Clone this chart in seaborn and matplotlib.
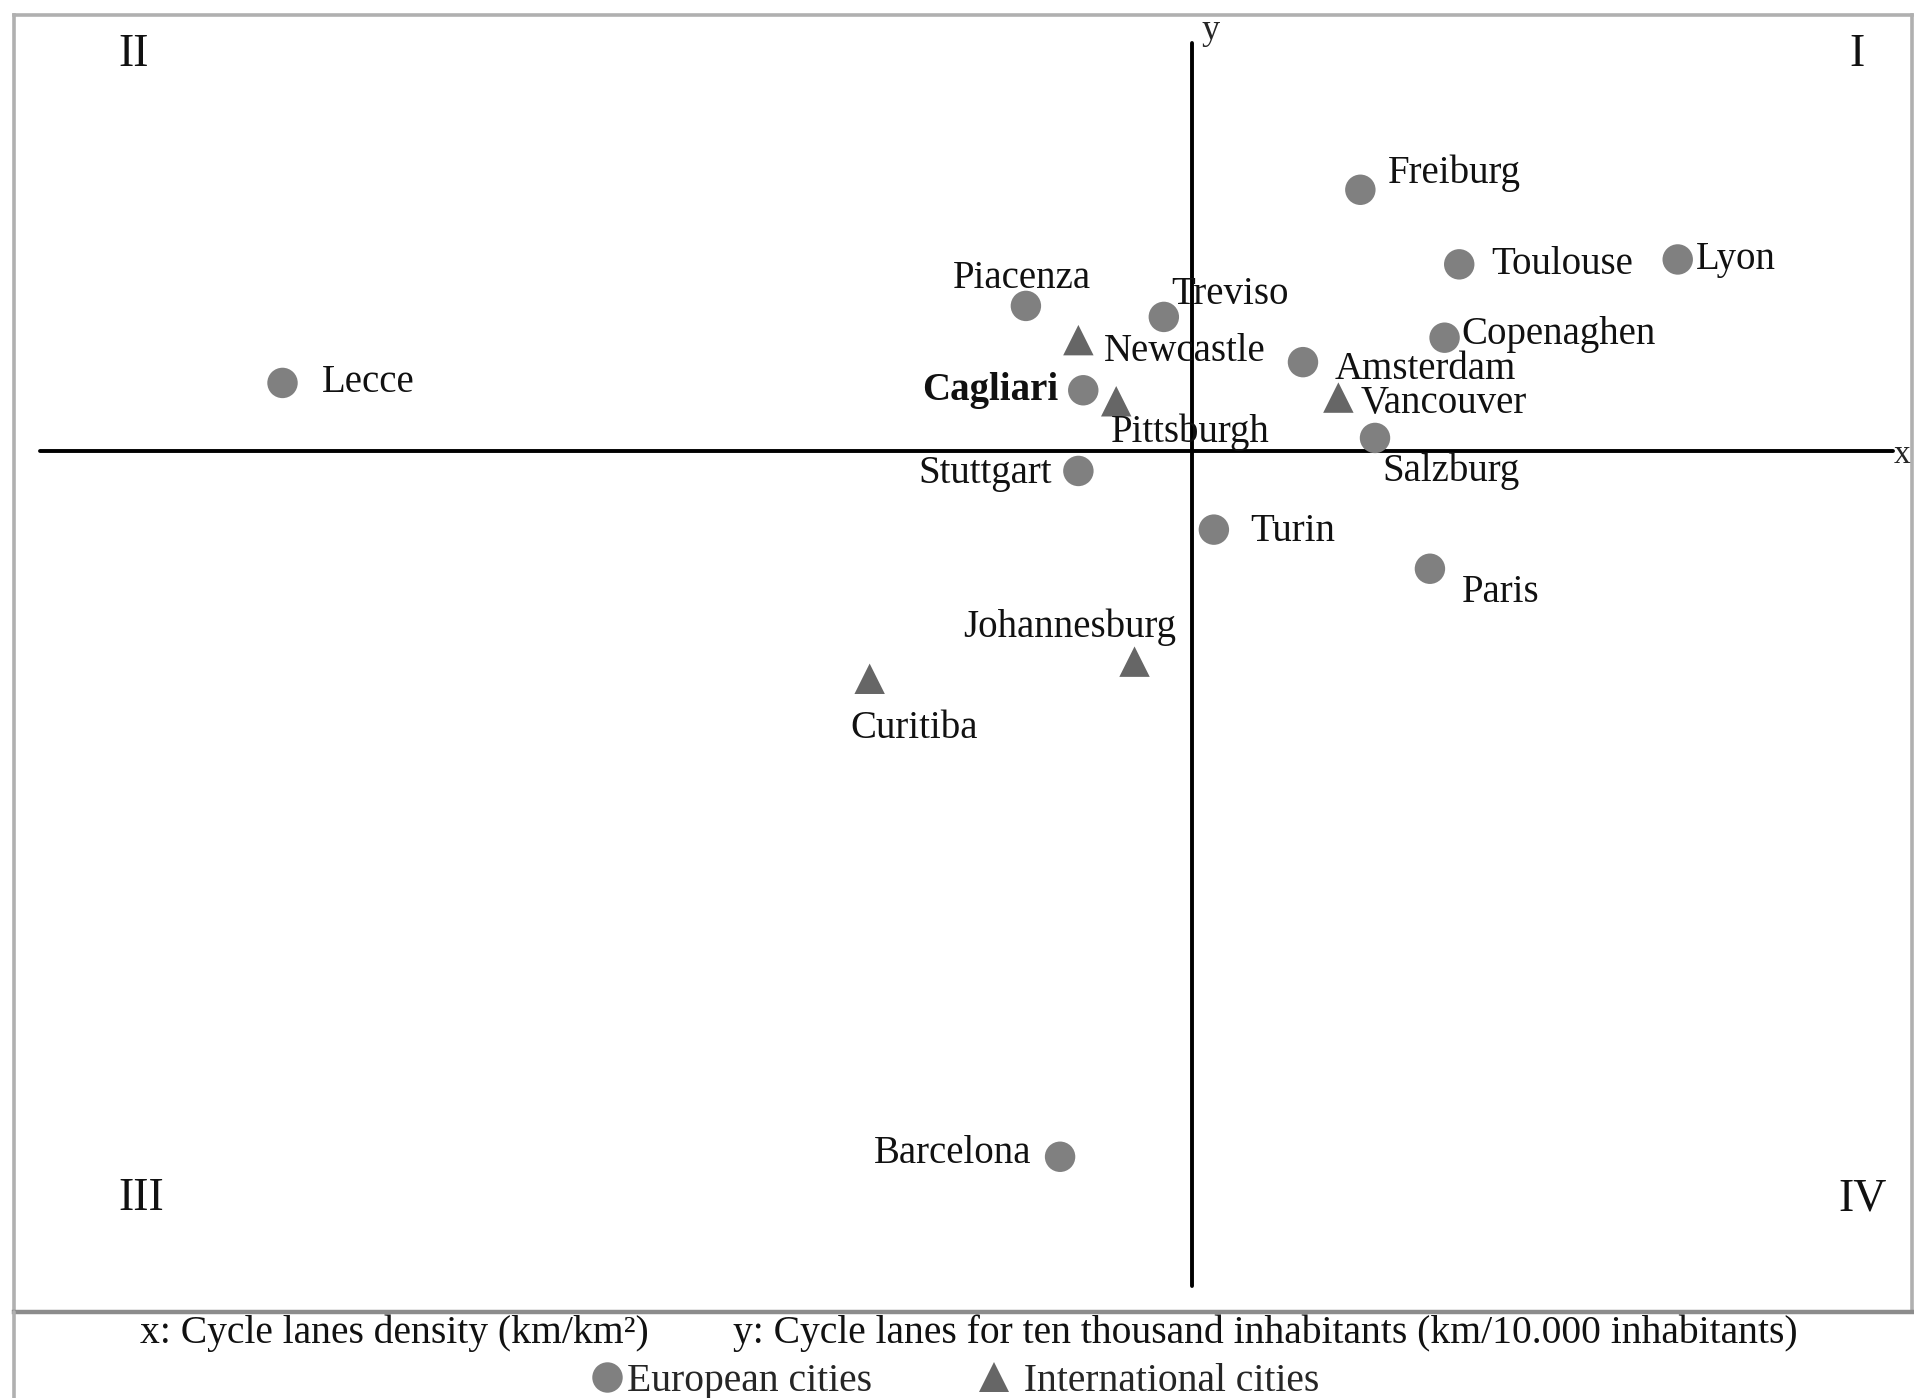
import matplotlib
matplotlib.use("Agg")
import matplotlib.pyplot as plt
import seaborn as sns
import pandas as pd
from matplotlib.lines import Line2D

# city positions relative to the mean (axes cross at 0, 0)
cities = ["Lecce", "Piacenza", "Newcastle", "Treviso", "Cagliari", "Pittsburgh",
          "Stuttgart", "Freiburg", "Toulouse", "Lyon", "Copenaghen", "Amsterdam",
          "Vancouver", "Salzburg", "Turin", "Paris", "Johannesburg", "Curitiba",
          "Barcelona"]
x_vals = [-7.45, -1.36, -0.93, -0.23, -0.89, -0.62, -0.93, 1.38, 2.19, 3.98,
          2.07, 0.91, 1.20, 1.50, 0.18, 1.95, -0.47, -2.64, -1.08]
y_vals = [0.56, 1.19, 0.91, 1.10, 0.50, 0.41, -0.16, 2.14, 1.53, 1.57,
          0.93, 0.73, 0.44, 0.11, -0.64, -0.96, -1.72, -1.86, -5.77]
groups = ["European cities", "European cities", "International cities",
          "European cities", "European cities", "International cities",
          "European cities", "European cities", "European cities",
          "European cities", "European cities", "European cities",
          "International cities", "European cities", "European cities",
          "European cities", "International cities", "International cities",
          "European cities"]

df = pd.DataFrame({"city": cities, "x": x_vals, "y": y_vals, "group": groups})

# label offsets in points and alignment
label_pos = {
    "Lecce": (28, 0, "left"), "Piacenza": (-3, 20, "center"),
    "Treviso": (5, 16, "left"), "Newcastle": (18, -8, "left"),
    "Cagliari": (-18, 0, "right"), "Pittsburgh": (-4, -22, "left"),
    "Stuttgart": (-19, -2, "right"), "Freiburg": (20, 12, "left"),
    "Toulouse": (23, 0, "left"), "Lyon": (13, 0, "left"),
    "Copenaghen": (12, 2, "left"), "Amsterdam": (23, -5, "left"),
    "Vancouver": (16, -4, "left"), "Salzburg": (5, -24, "left"),
    "Turin": (26, -1, "left"), "Paris": (23, -17, "left"),
    "Johannesburg": (-47, 25, "center"), "Curitiba": (32, -36, "center"),
    "Barcelona": (-21, 2, "right"),
}

sns.set_style("white")
plt.rcParams["font.family"] = ["Liberation Serif", "DejaVu Serif"]

fig = plt.figure(figsize=(19.14, 13.98), dpi=100)
ax = fig.add_axes([0.0073, 0.0615, 0.9917, 0.9278])

sns.scatterplot(data=df, x="x", y="y", hue="group", style="group",
                markers={"European cities": "o", "International cities": "^"},
                palette={"European cities": "#808080", "International cities": "#666666"},
                s=480, linewidth=0, ax=ax, zorder=3)

ax.set_xlim(-9.65, 5.90)
ax.set_ylim(-7.04, 3.57)
ax.set_xticks([])
ax.set_yticks([])
ax.set_xlabel("")
ax.set_ylabel("")
for name, sp in ax.spines.items():
    sp.set_color("#b0b0b0")
    sp.set_linewidth(2.6)
ax.spines["bottom"].set_color("#8c8c8c")
ax.spines["bottom"].set_linewidth(3.2)

# quadrant axes
ax.plot([-9.44, 5.74], [0, 0], color="black", lw=2.8, zorder=2)
ax.plot([0, 0], [-6.83, 3.34], color="black", lw=2.8, zorder=2)
ax.text(0.08, 3.44, "y", fontsize=26, ha="left", va="center")
ax.text(5.75, -0.03, "x", fontsize=24, ha="left", va="center")

for num, (fx, fy) in {"II": (0.063, 0.969), "I": (0.971, 0.969),
                      "III": (0.067, 0.087), "IV": (0.974, 0.087)}.items():
    ax.text(fx, fy, num, transform=ax.transAxes, fontsize=33,
            ha="center", va="center", color="#111111")

for _, row in df.iterrows():
    dx, dy, ha = label_pos[row["city"]]
    ax.annotate(row["city"], (row["x"], row["y"]), xytext=(dx, dy),
                textcoords="offset points", ha=ha, va="center", fontsize=28,
                fontweight="bold" if row["city"] == "Cagliari" else "normal",
                color="#111111")

# footer
fig.add_artist(Line2D([0.0073, 0.0073], [0, 0.0615], color="#b0b0b0", lw=2.6))
fig.text(0.073, 0.0465, "x: Cycle lanes density (km/km²)", fontsize=28.5,
         ha="left", va="center", color="#111111")
fig.text(0.939, 0.0465,
         "y: Cycle lanes for ten thousand inhabitants (km/10.000 inhabitants)",
         fontsize=28.5, ha="right", va="center", color="#111111")

handles, labels = ax.get_legend_handles_labels()
ax.get_legend().remove()
labels = [labels[0], " " + labels[1]]
fig.legend(handles, labels, loc="center", bbox_to_anchor=(0.498, 0.012), ncol=2,
           frameon=False, fontsize=28.5, markerscale=1.0, handletextpad=0.0,
           columnspacing=2.6, handlelength=1.0, borderpad=0)

fig.savefig("out.png", dpi=100)
